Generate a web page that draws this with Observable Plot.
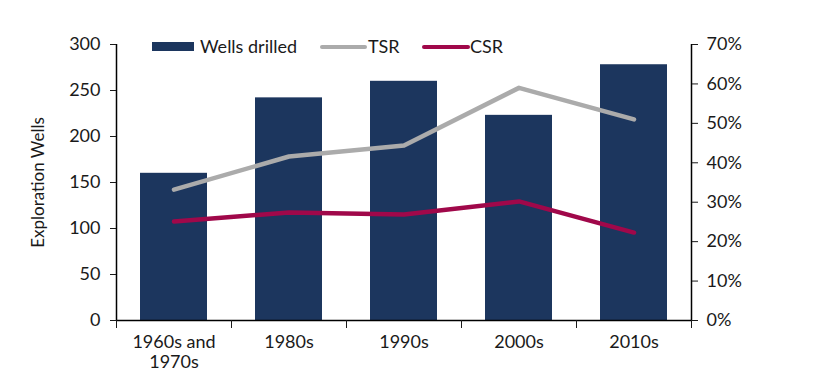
<!DOCTYPE html>
<html>
<head>
<meta charset="utf-8">
<script src="https://cdn.jsdelivr.net/npm/d3@7"></script>
<script src="https://cdn.jsdelivr.net/npm/@observablehq/plot@0.6"></script>
<style>
  html, body { margin: 0; padding: 0; background: #fff; }
  #wrap { position: relative; width: 835px; height: 389px; font-family: Lato, "Open Sans", sans-serif; }
  .lg { position: absolute; font-size: 18px; color: #1a1a1a; line-height: 1; white-space: nowrap; }
  .sw { position: absolute; }
</style>
</head>
<body>
<div id="wrap"></div>
<script>
const categories = ["1960s and\n1970s", "1980s", "1990s", "2000s", "2010s"];
const wells = [160, 242, 260, 223, 278];
const tsr = [33.2, 41.6, 44.4, 59.0, 51.0];
const csr = [25.1, 27.4, 26.9, 30.2, 22.3];
const leftTicks = [0, 50, 100, 150, 200, 250, 300];
const rightTicks = [0, 10, 20, 30, 40, 50, 60, 70];
const seriesNames = ["Wells drilled", "TSR", "CSR"];

const navy = "#1c365e";
const gray = "#ababab";
const crimson = "#a0084a";
const k = 300 / 70;

const rows = categories.map((c, i) => ({i, c, wells: wells[i], tsr: tsr[i], csr: csr[i]}));

const chart = Plot.plot({
  width: 835,
  height: 389,
  marginLeft: 116,
  marginRight: 144,
  marginTop: 44,
  marginBottom: 69,
  style: {fontFamily: "Lato, 'Open Sans', sans-serif", fontSize: "18px", color: "#1a1a1a", background: "#fff"},
  x: {domain: [0, categories.length], axis: null},
  y: {domain: [0, 300], axis: null},
  marks: [
    Plot.rectY(rows, {x1: d => d.i, x2: d => d.i + 1, y: "wells", fill: navy, insetLeft: 24, insetRight: 24}),
    Plot.line(rows, {x: d => d.i + 0.5, y: d => d.tsr * k, stroke: gray, strokeWidth: 4.5}),
    Plot.line(rows, {x: d => d.i + 0.5, y: d => d.csr * k, stroke: crimson, strokeWidth: 4.5}),
    Plot.ruleX([0, categories.length], {y1: 0, y2: 300, stroke: "#000", strokeWidth: 1.5}),
    Plot.ruleY([0], {stroke: "#000", strokeWidth: 1.5}),
    Plot.axisY({ticks: leftTicks, tickSize: 6, tickPadding: 10, anchor: "left", fontSize: 18, label: null}),
    Plot.axisY({ticks: rightTicks.map(v => v * k), anchor: "right", tickSize: 6, tickPadding: 9, tickFormat: v => Math.round(v / k) + "%", fontSize: 18, label: null}),
    Plot.axisX({ticks: d3.range(categories.length + 1), tickSize: 8, tickFormat: () => "", label: null}),
    Plot.axisX({ticks: categories.map((c, i) => i + 0.5), tickSize: 0, tickPadding: 13, tickFormat: v => categories[Math.round(v - 0.5)], fontSize: 18, label: null, lineHeight: 1.12}),
    Plot.text(["Exploration Wells"], {frameAnchor: "left", dx: -78, rotate: -90, textAnchor: "middle", fontSize: 17, fill: "#1a1a1a"})
  ]
});

const wrap = document.getElementById("wrap");
wrap.appendChild(chart);

// legend (positioned over the plot area, as in the reference)
const legendItems = [
  {label: seriesNames[0], color: navy, type: "rect", sx: 152, sw: 42, tx: 200},
  {label: seriesNames[1], color: gray, type: "line", sx: 320, sw: 47, tx: 368},
  {label: seriesNames[2], color: crimson, type: "line", sx: 422, sw: 48, tx: 470}
];
legendItems.forEach(it => {
  const sw = document.createElement("div");
  sw.className = "sw";
  sw.style.left = it.sx + "px";
  sw.style.width = it.sw + "px";
  if (it.type === "rect") { sw.style.top = "42px"; sw.style.height = "9px"; }
  else { sw.style.top = "44.5px"; sw.style.height = "4.5px"; sw.style.borderRadius = "2px"; }
  sw.style.background = it.color;
  wrap.appendChild(sw);
  const t = document.createElement("div");
  t.className = "lg";
  t.style.left = it.tx + "px";
  t.style.top = "37px";
  t.textContent = it.label;
  wrap.appendChild(t);
});
</script>
</body>
</html>
